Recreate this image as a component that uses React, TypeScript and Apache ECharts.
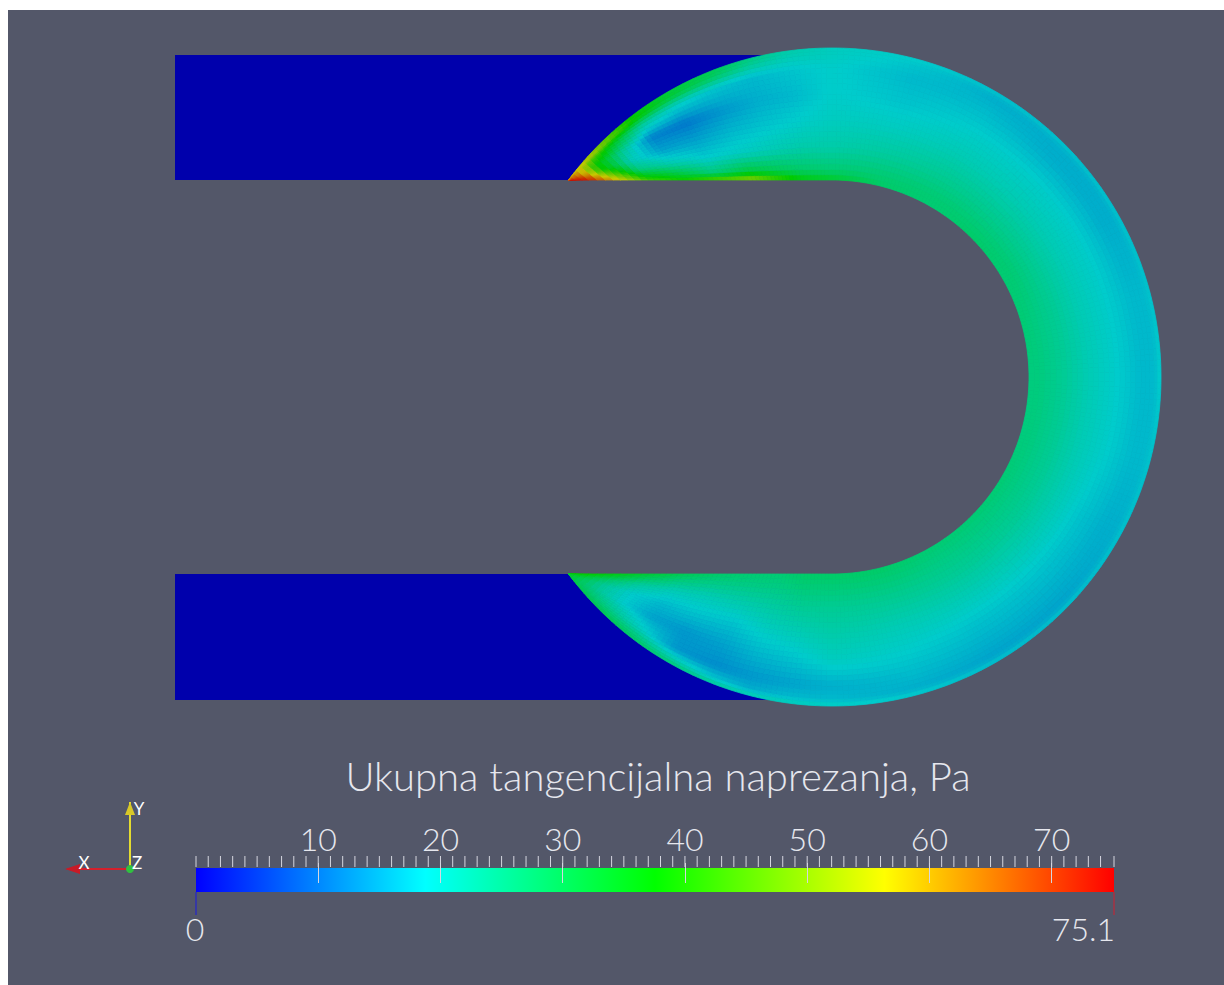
import React, { useEffect, useRef } from "react";
import * as echarts from "echarts";

const FONT = "Lato";
const BG = "#535769";
const TEXT = "#e6e7ee";

const chartTitle = "Ukupna tangencijalna naprezanja, Pa";
const scaleMin = 0;
const scaleMax = 75.1;
const majorTickValues = [10, 20, 30, 40, 50, 60, 70];
const minorTickValues = [
  0, 1, 2, 3, 4, 5, 6, 7, 8, 9, 10, 11, 12, 13, 14, 15, 16, 17, 18, 19, 20, 21, 22, 23, 24, 25, 26,
  27, 28, 29, 30, 31, 32, 33, 34, 35, 36, 37, 38, 39, 40, 41, 42, 43, 44, 45, 46, 47, 48, 49, 50,
  51, 52, 53, 54, 55, 56, 57, 58, 59, 60, 61, 62, 63, 64, 65, 66, 67, 68, 69, 70, 71, 72, 73, 74,
  75.1,
];
const colorbarStops = [0, 18.775, 37.55, 56.325, 75.1];
const colorbarColors = ["#0000ff", "#00ffff", "#00ff00", "#ffff00", "#ff0000"];

// Geometry of the pipe section (length units, origin in the centre of the bend)
const innerRadius = 197;
const outerRadius = 329;
const inletBlocks = [
  [-657, 197, -30, 322],
  [-657, -323, -30, -197],
];

// Sampling nodes of the stress field, in the bend
const bendAngles = [
  143.2, 141, 138, 133, 127, 120, 112, 105, 98, 90, 75, 60, 45, 30, 15, 0,
  -15, -30, -45, -60, -75, -90, -98, -105, -112, -120, -127, -133, -138, -141, -143.2,
];
const radialLevels = [0, 0.08, 0.25, 0.45, 0.65, 0.85, 0.95, 1];
const stressByAngle = [
  [74, 74, 73, 72, 70, 68, 66, 62],
  [72, 72, 70, 66, 62, 60, 58, 56],
  [60, 58, 50, 40, 38, 44, 54, 52],
  [44, 38, 26, 21, 24, 34, 46, 44],
  [40, 33, 22, 15, 12, 24, 38, 36],
  [48, 27, 19, 15, 11, 20, 33, 32],
  [52, 32, 20, 17, 14, 18, 29, 30],
  [44, 30, 21, 18, 16, 17, 24, 26],
  [37, 28, 22, 19, 17, 18, 21, 22],
  [34, 27, 22, 20, 19, 19, 20, 20],
  [28, 27, 23, 20, 18, 17, 18, 19],
  [27, 27, 24, 21, 19, 17, 16, 18],
  [28, 27, 24, 21, 19, 16, 16, 18],
  [27, 27, 24, 21, 19, 16, 16, 18],
  [27, 26, 24, 21, 19, 17, 17, 18],
  [26, 26, 24, 21, 19, 17, 17, 19],
  [26, 26, 24, 21, 19, 17, 17, 18],
  [27, 26, 24, 21, 18, 16, 16, 18],
  [27, 26, 24, 21, 18, 16, 15, 18],
  [27, 26, 24, 21, 18, 16, 15, 18],
  [28, 27, 24, 21, 19, 17, 16, 19],
  [28, 27, 24, 22, 20, 16, 17, 20],
  [28, 27, 24, 21, 18, 15, 17, 21],
  [27, 26, 23, 20, 17, 14, 16, 22],
  [27, 26, 22, 18, 15, 13, 18, 24],
  [28, 26, 21, 18, 14, 14, 22, 27],
  [30, 27, 21, 17, 15, 20, 26, 28],
  [33, 30, 23, 19, 19, 24, 28, 30],
  [36, 34, 28, 24, 24, 27, 29, 30],
  [38, 37, 33, 30, 29, 29, 30, 31],
  [38, 38, 37, 35, 34, 34, 33, 33],
];

function stressColor(v: number): string {
  const t = Math.max(0, Math.min(1, v / scaleMax));
  const h = 240 * (1 - t);
  const V = 0.8;
  const f = (n: number) => {
    const k = (n + h / 60) % 6;
    return Math.round(255 * (V - V * Math.max(0, Math.min(k, 4 - k, 1))));
  };
  return `rgb(${f(5)},${f(3)},${f(1)})`;
}

function bandPoint(angleDeg: number, s: number): [number, number] {
  const a = (angleDeg * Math.PI) / 180;
  const sinA = Math.abs(Math.sin(a));
  const inner = Math.abs(angleDeg) <= 90 ? innerRadius : innerRadius / sinA;
  const r = inner + (outerRadius - inner) * s;
  return [r * Math.cos(a), r * Math.sin(a)];
}

const cellData: number[][] = [];
for (let i = 0; i < bendAngles.length - 1; i++) {
  for (let j = 0; j < radialLevels.length - 1; j++) cellData.push([i, j]);
}

function renderCell(_params: any, api: any) {
  const i = api.value(0);
  const j = api.value(1);
  const a0 = bendAngles[i];
  const a1 = bendAngles[i + 1];
  const s0 = radialLevels[j];
  const s1 = radialLevels[j + 1];
  const v00 = stressByAngle[i][j];
  const v01 = stressByAngle[i][j + 1];
  const v10 = stressByAngle[i + 1][j];
  const v11 = stressByAngle[i + 1][j + 1];
  const nA = Math.max(2, Math.ceil((((Math.abs(a0 - a1) * Math.PI) / 180) * outerRadius) / 6));
  const thick = (outerRadius - innerRadius) * (s1 - s0);
  const nS = Math.max(2, Math.ceil(thick / 6));
  const children: any[] = [];
  for (let u = 0; u < nA; u++) {
    for (let w = 0; w < nS; w++) {
      const au0 = a0 + ((a1 - a0) * u) / nA;
      const au1 = a0 + ((a1 - a0) * (u + 1)) / nA;
      const sw0 = s0 + ((s1 - s0) * w) / nS;
      const sw1 = s0 + ((s1 - s0) * (w + 1)) / nS;
      const fu = (u + 0.5) / nA;
      const fw = (w + 0.5) / nS;
      const v =
        v00 * (1 - fu) * (1 - fw) + v01 * (1 - fu) * fw + v10 * fu * (1 - fw) + v11 * fu * fw;
      const color = stressColor(v);
      children.push({
        type: "polygon",
        shape: {
          points: [
            api.coord(bandPoint(au0, sw0)),
            api.coord(bandPoint(au1, sw0)),
            api.coord(bandPoint(au1, sw1)),
            api.coord(bandPoint(au0, sw1)),
          ],
        },
        style: { fill: color, stroke: color, lineWidth: 0.8 },
        silent: true,
      });
    }
  }
  return { type: "group", children };
}

function renderBlock(_params: any, api: any) {
  const a = api.coord([api.value(0), api.value(3)]);
  const b = api.coord([api.value(2), api.value(1)]);
  return {
    type: "rect",
    shape: { x: a[0], y: a[1], width: b[0] - a[0], height: b[1] - a[1] },
    style: { fill: "#0000ac" },
    silent: true,
  };
}

function renderColorbar(_params: any, api: any) {
  const a = api.coord([scaleMin, 1]);
  const b = api.coord([scaleMax, 0]);
  const stops = colorbarStops.map((v, k) => ({
    offset: (v - scaleMin) / (scaleMax - scaleMin),
    color: colorbarColors[k],
  }));
  return {
    type: "rect",
    shape: { x: a[0], y: a[1], width: b[0] - a[0], height: b[1] - a[1] },
    style: { fill: new echarts.graphic.LinearGradient(0, 0, 1, 0, stops) },
    silent: true,
  };
}

function renderMinorTick(_params: any, api: any) {
  const a = api.coord([api.value(0), 1]);
  return {
    type: "line",
    shape: { x1: a[0], y1: a[1] - 1, x2: a[0], y2: a[1] - 12 },
    style: { stroke: "#d5d6df", lineWidth: 1 },
    silent: true,
  };
}

export default function App() {
  const ref = useRef<HTMLDivElement>(null);
  useEffect(() => {
    const chart = echarts.init(ref.current!, undefined, { renderer: "svg" });
    const o = (x: number, y: number) => ({ x: x - 8, y: y - 10 });
    const label = (
      text: string,
      x: number,
      y: number,
      fontSize: number,
      align = "center",
      weight = 300,
      fill = TEXT,
    ) => ({
      type: "text",
      ...o(x, y),
      z: 20,
      silent: true,
      style: {
        text,
        fill,
        font: `${weight} ${fontSize}px ${FONT}`,
        textAlign: align,
        textVerticalAlign: "middle",
      },
    });
    const seg = (x1: number, y1: number, x2: number, y2: number, stroke: string, lineWidth: number) => ({
      type: "line",
      z: 18,
      silent: true,
      shape: { x1: x1 - 8, y1: y1 - 10, x2: x2 - 8, y2: y2 - 10 },
      style: { stroke, lineWidth },
    });
    chart.setOption({
      animation: false,
      backgroundColor: BG,
      grid: [
        { left: 0, top: 0, width: 1216, height: 975 },
        { left: 188, top: 858, width: 918, height: 24 },
      ],
      xAxis: [
        { type: "value", gridIndex: 0, min: -824, max: 392, show: false },
        {
          type: "value",
          gridIndex: 1,
          position: "top",
          offset: -9,
          min: scaleMin,
          max: scaleMax,
          axisLine: { show: false },
          splitLine: { show: false },
          z: 10,
          axisTick: {
            show: true,
            length: 20,
            customValues: majorTickValues,
            lineStyle: { color: "#d5d6df", width: 1 },
          },
          axisLabel: {
            show: true,
            customValues: majorTickValues,
            color: TEXT,
            fontFamily: FONT,
            fontWeight: 300,
            fontSize: 32,
            margin: 23,
          },
        },
      ],
      yAxis: [
        { type: "value", gridIndex: 0, min: -608, max: 367, show: false },
        { type: "value", gridIndex: 1, min: 0, max: 1, show: false },
      ],
      series: [
        {
          type: "custom",
          name: "inlet",
          xAxisIndex: 0,
          yAxisIndex: 0,
          clip: false,
          silent: true,
          encode: { x: [0, 2], y: [1, 3] },
          data: inletBlocks,
          renderItem: renderBlock,
          z: 1,
        },
        {
          type: "custom",
          name: "stress",
          xAxisIndex: 0,
          yAxisIndex: 0,
          clip: false,
          silent: true,
          data: cellData,
          renderItem: renderCell,
          z: 2,
        },
        {
          type: "custom",
          name: "colorbar",
          xAxisIndex: 1,
          yAxisIndex: 1,
          clip: false,
          silent: true,
          data: [[scaleMin, 0]],
          renderItem: renderColorbar,
          z: 3,
        },
        {
          type: "custom",
          name: "minorTicks",
          xAxisIndex: 1,
          yAxisIndex: 1,
          clip: false,
          silent: true,
          data: minorTickValues.map((v) => [v, 1]),
          renderItem: renderMinorTick,
          z: 4,
        },
      ],
      graphic: {
        elements: [
          label(chartTitle, 658, 776, 40),
          label(String(scaleMin), 195, 928, 32),
          label(String(scaleMax), 1115, 928, 32, "right"),
          seg(196, 892, 196, 915, "#1a1ae0", 1),
          seg(1114, 892, 1114, 915, "#d02030", 1),
          seg(130, 869, 67, 869, "#d4202c", 2),
          seg(130, 869, 130, 802, "#e4dc30", 2),
          {
            type: "polygon",
            z: 19,
            silent: true,
            shape: { points: [[65 - 8, 869 - 10], [80 - 8, 864 - 10], [80 - 8, 874 - 10]] },
            style: { fill: "#c81a26" },
          },
          {
            type: "polygon",
            z: 19,
            silent: true,
            shape: { points: [[130 - 8, 802 - 10], [125 - 8, 815 - 10], [135 - 8, 815 - 10]] },
            style: { fill: "#d8c828" },
          },
          { type: "circle", z: 19, silent: true, shape: { cx: 130 - 8, cy: 869 - 10, r: 4 }, style: { fill: "#30c040" } },
          label("X", 84, 862, 17, "center", 400, "#ffffff"),
          label("Y", 139, 808, 17, "center", 400, "#ffffff"),
          label("Z", 137, 862, 17, "center", 400, "#ffffff"),
        ],
      },
    });
    return () => chart.dispose();
  }, []);
  return <div ref={ref} style={{ position: "fixed", left: 8, top: 10, width: 1216, height: 975 }} />;
}
